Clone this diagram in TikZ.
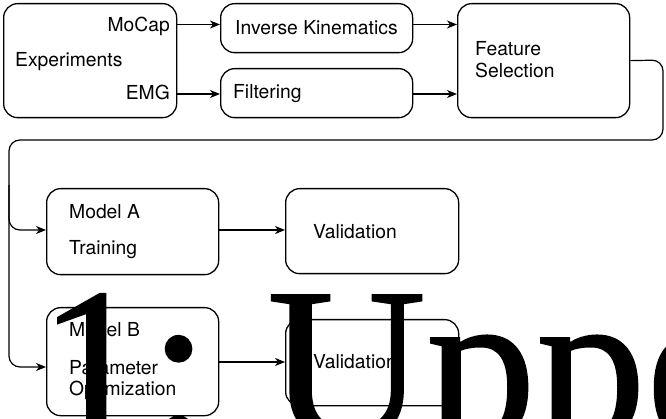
\documentclass[tikz,border=0pt]{standalone}
\usepackage{fontspec}
\setmainfont{TeX Gyre Heros}
\newfontfamily\bigserif{Liberation Serif}[FakeBold=0.8]
\usetikzlibrary{arrows.meta}
\begin{document}
\begin{tikzpicture}[x=1pt,y=-1pt,
  box/.style={draw, line width=1.3pt, rounded corners=14pt, inner sep=0pt, anchor=north west},
  lbl/.style={anchor=base west, inner sep=0pt, font=\fontsize{19.3}{23}\selectfont},
  lblr/.style={lbl, anchor=base east},
  arr/.style={line width=1.2pt, -{Stealth[length=10pt,width=8pt,inset=3pt]}},
  looparr/.style={arr, rounded corners=11pt}]
\useasboundingbox (0,0) rectangle (666,419);
\clip (0,0) rectangle (666,419);

% boxes
\node[box, minimum width=173pt, minimum height=114pt] (exp) at (3,3) {};
\node[box, minimum width=192pt, minimum height=49pt] (ik) at (220,3) {};
\node[box, minimum width=192pt, minimum height=49pt] (filt) at (220,68) {};
\node[box, minimum width=172pt, minimum height=114pt] (fs) at (457,3) {};
\node[box, minimum width=172pt, minimum height=86pt] (ma) at (46,188) {};
\node[box, minimum width=173pt, minimum height=85pt] (va) at (285,188) {};
\node[box, minimum width=172pt, minimum height=108pt] (mb) at (46,307) {};
\node[box, minimum width=173pt, minimum height=86pt] (vb) at (285,319) {};

% labels
\node[lblr] (tmocap) at (170,32) {MoCap};
\node[lblr] (temg) at (170,99.5) {EMG};
\node[lbl] (texp) at (15,67) {Experiments};
\node[lbl] (tik) at (235,35) {Inverse Kinematics};
\node[lbl] (tfilt) at (233,99) {Filtering};
\node[lbl] (tfs1) at (475,56) {Feature};
\node[lbl] (tfs2) at (475,78) {Selection};
\node[lbl] (tma1) at (69,219) {Model A};
\node[lbl] (tma2) at (69,255) {Training};
\node[lbl] (tva) at (313,238.5) {Validation};
\node[lbl] (tmb1) at (69,337) {Model B};
\node[lbl] (tmb2) at (69,374) {Parameter};
\node[lbl] (tmb3) at (69,395) {Optimization};
\node[lbl] (tvb) at (313,368) {Validation};

% connector levels
\coordinate (r1) at (0,24.5);
\coordinate (r2) at (0,94);
\coordinate (rA) at (0,230);
\coordinate (rB) at (0,362);
\coordinate (c1) at (663,60);
\coordinate (c2) at (663,140);
\coordinate (c3) at (9,140);
\coordinate (c4) at (9,367);
\coordinate (c5) at (9,230);
\coordinate (c6) at (9,185);

\draw[arr] (exp.east |- r1) -- (ik.west |- r1);
\draw[arr] (exp.east |- r2) -- (filt.west |- r2);
\draw[arr] (ik.east |- r1) -- (fs.west |- r1);
\draw[arr] (filt.east |- r2) -- (fs.west |- r2);
\draw[arr] (ma.east |- rA) -- (va.west |- rA);
\draw[arr] (mb.east |- rB) -- (vb.west |- rB);
\draw[looparr] (fs.east) -- (c1) -- (c2) -- (c3) -- (c4) -- (mb.west |- c4);
\draw[looparr] (c6) -- (c5) -- (ma.west |- c5);

% large overlapping caption text
\node[anchor=base west, inner sep=0pt, font=\bigserif\fontsize{220}{220}\selectfont] (bigcap) at (38,439) {1:\hspace{58pt}Uppe};
\end{tikzpicture}
\end{document}
